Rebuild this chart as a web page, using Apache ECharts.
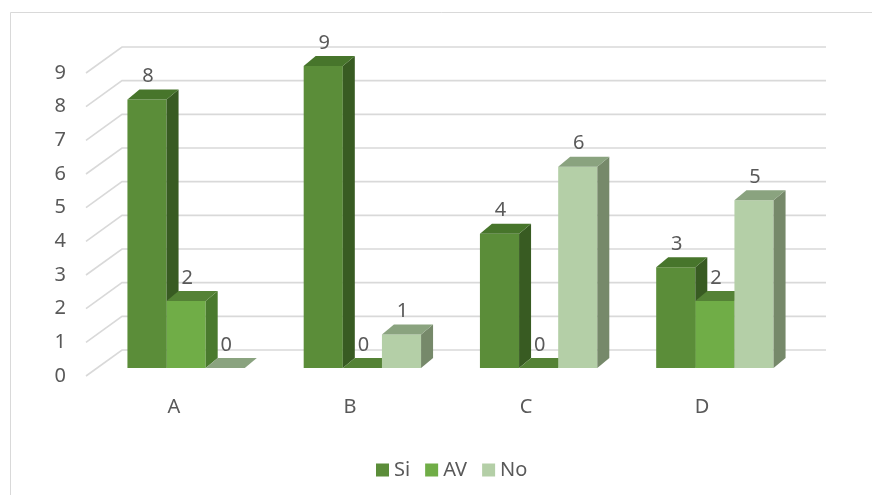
<!DOCTYPE html>
<html>
<head>
<meta charset="utf-8">
<script src="https://cdn.jsdelivr.net/npm/echarts@6/dist/echarts.min.js"></script>
<style>html,body{margin:0;padding:0;background:#fff;}#main{width:872px;height:495px;}</style>
</head>
<body>
<div id="main"></div>
<script>
const categories = ['A', 'B', 'C', 'D'];
const seriesNames = ['Si', 'AV', 'No'];
const siValues = [8, 9, 4, 3];
const avValues = [2, 0, 0, 2];
const noValues = [0, 1, 6, 5];
const yTicks = [0, 1, 2, 3, 4, 5, 6, 7, 8, 9];

const allValues = [siValues, avValues, noValues];
const faceColors = [
  { front: '#5b8d39', top: '#47752b', side: '#385b22' },
  { front: '#70ad47', top: '#548235', side: '#4a7a2e' },
  { front: '#b4cfa7', top: '#8aa37f', side: '#76896a' }
];
const FONT = '"Noto Sans", sans-serif';
const FS = 20;
const TXT = '#595959';
const DX = 12, DY = 10;      // bar depth
const WX = 36, WY = 26;      // floor depth

const chart = echarts.init(document.getElementById('main'));

function wallItem(params, api) {
  const p = api.coord([0, api.value(1)]);
  const band = api.size([1, 0])[0];
  const xL = p[0] - band / 2;
  const xR = xL + band * categories.length;
  return {
    type: 'polyline',
    shape: { points: [[xL, p[1]], [xL + WX, p[1] - WY], [xR + WX, p[1] - WY]] },
    style: { stroke: '#d9d9d9', lineWidth: 1.6, fill: null }
  };
}

function makeBarRender(s) {
  return function (params, api) {
    const cat = api.value(0);
    const v = api.value(1);
    const p0 = api.coord([cat, 0]);
    const p1 = api.coord([cat, v]);
    const band = api.size([1, 0])[0];
    const barW = band * 0.222;
    const x = p0[0] - (barW * 3) / 2 + s * barW;
    const yb = p0[1], yt = p1[1];
    const c = faceColors[s];
    const children = [];
    if (yb - yt > 0.1) {
      children.push({ type: 'rect', shape: { x: x, y: yt, width: barW, height: yb - yt }, style: { fill: c.front } });
      children.push({ type: 'polygon', shape: { points: [[x + barW, yt], [x + barW + DX, yt - DY], [x + barW + DX, yb - DY], [x + barW, yb]] }, style: { fill: c.side } });
    }
    children.push({ type: 'polygon', shape: { points: [[x, yt], [x + barW, yt], [x + barW + DX, yt - DY], [x + DX, yt - DY]] }, style: { fill: c.top } });
    children.push({
      type: 'text',
      style: { text: String(v), x: x + barW / 2 + 1, y: yt - DY - 3, align: 'center', verticalAlign: 'bottom', fill: TXT, font: FS + 'px ' + FONT }
    });
    return { type: 'group', children: children };
  };
}

const barSeries = seriesNames.map((name, s) => ({
  name: name,
  type: 'custom',
  xAxisIndex: 1,
  yAxisIndex: 1,
  itemStyle: { color: faceColors[s].front },
  renderItem: makeBarRender(s),
  data: categories.map((c, i) => [i, allValues[s][i]]),
  z: 5
}));

chart.setOption({
  animation: false,
  backgroundColor: '#ffffff',
  textStyle: { fontFamily: FONT },
  graphic: [{
    type: 'rect',
    shape: { x: 10.5, y: 12.5, width: 900, height: 600 },
    style: { stroke: '#d9d9d9', lineWidth: 1, fill: null },
    silent: true
  }],
  legend: {
    data: seriesNames,
    icon: 'rect',
    itemWidth: 13,
    itemHeight: 13,
    itemGap: 15,
    left: 371,
    top: 455,
    textStyle: { fontSize: FS, color: TXT, fontFamily: FONT }
  },
  grid: [
    { left: 86, right: 82, top: 73, bottom: 119 },
    { left: 98, right: 69, top: 66, bottom: 127 }
  ],
  xAxis: [
    {
      type: 'category', gridIndex: 0, data: categories,
      axisLine: { show: false }, axisTick: { show: false },
      axisLabel: { margin: 21, fontSize: FS, color: TXT, fontFamily: FONT }
    },
    { type: 'category', gridIndex: 1, data: categories, show: false }
  ],
  yAxis: [
    {
      type: 'value', gridIndex: 0, min: 0, max: 9, interval: 1,
      axisLine: { show: false }, axisTick: { show: false }, splitLine: { show: false },
      axisLabel: { margin: 20, fontSize: FS, color: TXT, fontFamily: FONT }
    },
    { type: 'value', gridIndex: 1, min: 0, max: 9, interval: 1, show: false, splitLine: { show: false } }
  ],
  series: [
    {
      type: 'custom',
      xAxisIndex: 0,
      yAxisIndex: 0,
      renderItem: wallItem,
      data: yTicks.map(t => [0, t]),
      silent: true,
      z: 1
    }
  ].concat(barSeries)
});
</script>
</body>
</html>
